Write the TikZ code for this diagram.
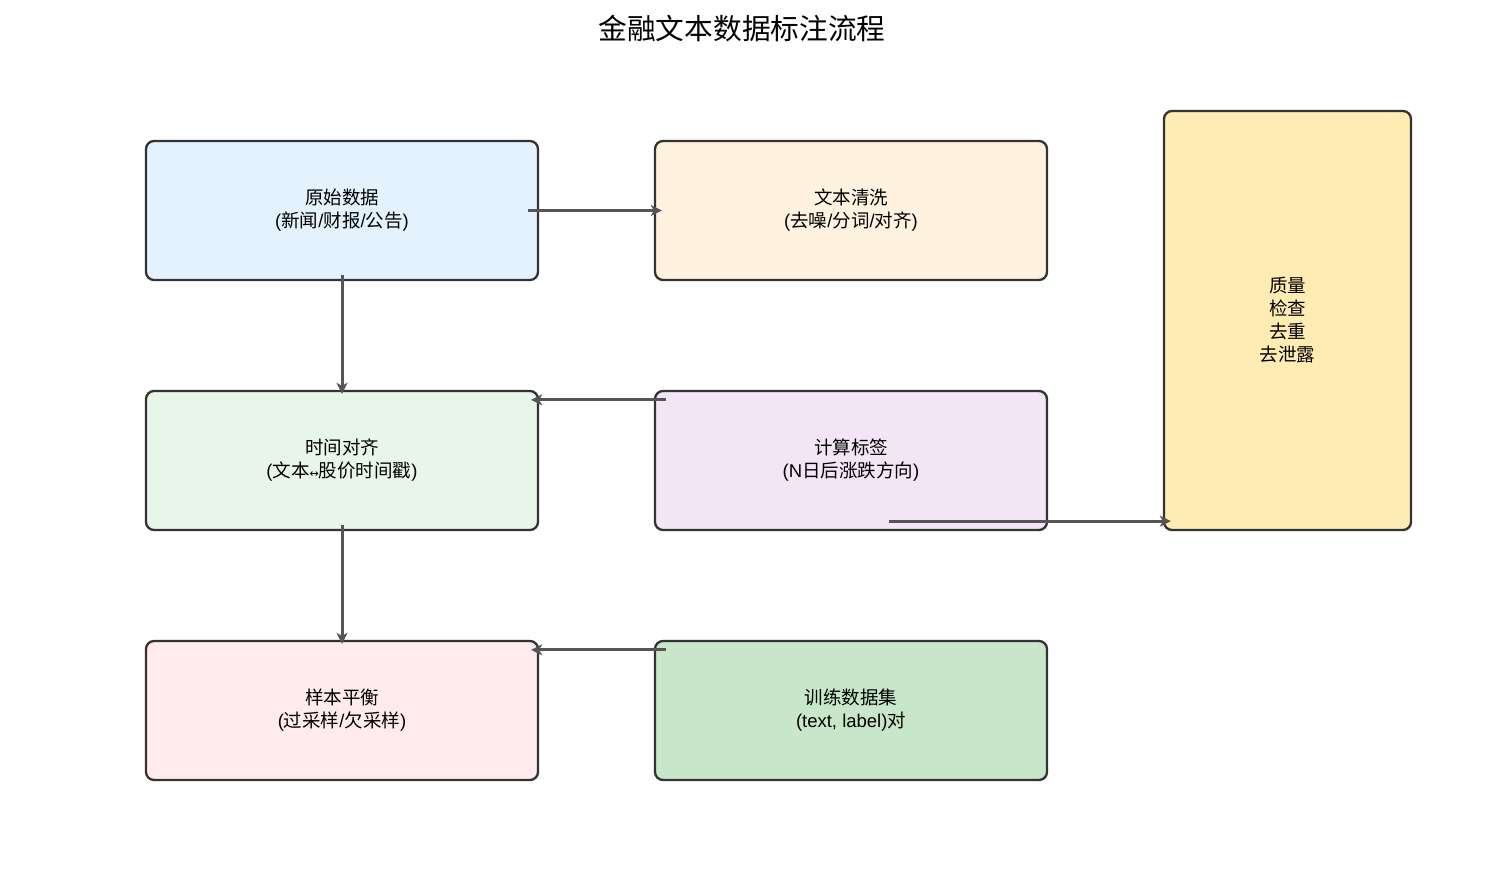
\documentclass[tikz,border=0pt]{standalone}
\usepackage{fontspec}
\setmainfont{Noto Sans CJK SC}
\newfontfamily\lat{Liberation Sans}
\newfontfamily\sym{DejaVu Sans}
\usetikzlibrary{arrows.meta,calc}
\definecolor{cblue}{HTML}{E3F2FD}
\definecolor{corange}{HTML}{FFF3E0}
\definecolor{cyellow}{HTML}{FFECB3}
\definecolor{cgreen}{HTML}{E8F5E9}
\definecolor{cpurple}{HTML}{F3E5F5}
\definecolor{cpink}{HTML}{FFEBEE}
\definecolor{cdgreen}{HTML}{C8E6C9}
\definecolor{cborder}{HTML}{333333}
\definecolor{carrow}{HTML}{555555}
\begin{document}
\begin{tikzpicture}[x=1pt,y=-1pt,
  box/.style={draw=cborder,line width=2.3pt,rounded corners=8pt,minimum width=392pt,minimum height=139pt,align=center,font=\fontsize{18.5pt}{23pt}\selectfont,inner sep=0pt},
  arr/.style={draw=carrow,line width=3pt,-{Stealth[length=11pt,width=11pt,inset=3pt]}}]
\useasboundingbox[fill=white] (0,0) rectangle (1485,886);
\node[font=\fontsize{28.7pt}{32pt}\selectfont] (title) at (742,29) {金融文本数据标注流程};
\node[box,fill=cblue] (raw) at (342,210.5) {原始数据\\{\lat(}新闻{\lat/}财报{\lat/}公告{\lat)}};
\node[box,fill=corange] (clean) at (851,210.5) {文本清洗\\{\lat(}去噪{\lat/}分词{\lat/}对齐{\lat)}};
\node[box,fill=cyellow,minimum width=247pt,minimum height=419pt] (qc) at (1287.5,320.5) {质量\\检查\\去重\\去泄露};
\node[box,fill=cgreen] (align) at (342,460.5) {时间对齐\\{\lat(}文本{\sym\fontsize{11pt}{11pt}\selectfont↔}股价时间戳{\lat)}};
\node[box,fill=cpurple] (label) at (851,460.5) {计算标签\\{\lat(N}日后涨跌方向{\lat)}};
\node[box,fill=cpink] (bal) at (342,710.5) {样本平衡\\{\lat(}过采样{\lat/}欠采样{\lat)}};
\node[box,fill=cdgreen] (train) at (851,710.5) {训练数据集\\{\lat(text, label)}对};
\draw[arr] ([xshift=-11pt]raw.east) -- ([xshift=8pt]clean.west);
\draw[arr] ([yshift=6pt]raw.south) -- ([yshift=-4pt]align.north);
\draw[arr] ([shift={(12pt,-10pt)}]label.north west) -- ([shift={(-8pt,-10pt)}]align.north east);
\draw[arr] ([shift={(235pt,10pt)}]label.south west) -- ([shift={(8pt,10pt)}]qc.south west);
\draw[arr] ([yshift=6pt]align.south) -- ([yshift=-4pt]bal.north);
\draw[arr] ([shift={(12pt,-10pt)}]train.north west) -- ([shift={(-8pt,-10pt)}]bal.north east);
\end{tikzpicture}
\end{document}
